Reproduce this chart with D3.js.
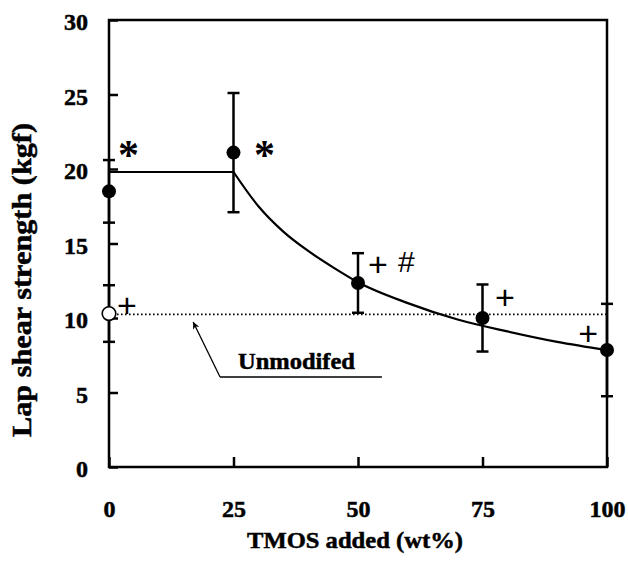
<!DOCTYPE html>
<html>
<head>
<meta charset="utf-8">
<script src="https://cdn.jsdelivr.net/npm/d3@7"></script>
<style>
  body { margin: 0; background: #fff; }
  text { font-family: "Liberation Serif", "Times New Roman", serif; font-weight: bold; }
  .mark { font-family: "Liberation Sans", Arial, sans-serif; font-weight: normal; }
</style>
</head>
<body>
<svg id="chart"></svg>
<script>
// measured points (TMOS wt%, strength kgf, +/- error)
const tmos = [0, 25, 50, 75, 100];
const strength = [18.5, 21.1, 12.35, 10.0, 7.85];
const errors = [2.1, 4.0, 2.0, 2.25, 3.1];

// unmodified reference
const unmodX = [0];
const unmodY = [10.3];
const unmodErr = [1.9];
const unmodLevel = 10.25;

// fitted line
const flatX = [0, 25];
const flatY = [19.8, 19.8];
const fitX = [25, 30, 35, 40, 45, 50, 60, 70, 80, 90, 100];
const fitY = [19.8, 17.5, 15.8, 14.5, 13.4, 12.4, 11.0, 9.9, 9.1, 8.4, 7.85];

const xTicks = [0, 25, 50, 75, 100];
const yTicks = [0, 5, 10, 15, 20, 25, 30];

// significance marks: [x, y, label] (centre of the glyph)
const starMarks = [[3.9, 21.55, '*'], [31.2, 21.55, '*']];
const plusMarks = [[3.6, 10.87, '+'], [54.0, 13.62, '+'], [59.7, 13.8, '#'], [79.5, 11.4, '+'], [96.2, 9.0, '+']];

const width = 628;
const height = 564;
const margin = { left: 109, right: 21, top: 20, bottom: 97 };

const svg = d3.select('#chart').attr('width', width).attr('height', height);

const x = d3.scaleLinear().domain([0, 100]).range([margin.left, width - margin.right]);
const y = d3.scaleLinear().domain([0, 30]).range([height - margin.bottom, margin.top]);

// frame
svg.append('rect')
  .attr('x', x(0)).attr('y', y(30))
  .attr('width', x(100) - x(0)).attr('height', y(0) - y(30))
  .attr('fill', 'none').attr('stroke', '#000').attr('stroke-width', 2.5);

const xAxis = d3.axisBottom(x).tickValues(xTicks).tickSize(-10).tickPadding(33);
const yAxis = d3.axisLeft(y).tickValues(yTicks).tickSize(-9).tickPadding(21);

const gx = svg.append('g')
  .attr('transform', 'translate(0,' + y(0) + ')')
  .call(xAxis);
const gy = svg.append('g')
  .attr('transform', 'translate(' + x(0) + ',0)')
  .call(yAxis);

[gx, gy].forEach((g) => {
  g.select('.domain').remove();
  g.selectAll('line').attr('stroke-width', 2.5);
  g.selectAll('text')
    .style('font-family', '"Liberation Serif", serif')
    .style('font-weight', 'bold')
    .style('font-size', '24px')
    .attr('fill', '#000')
    .attr('stroke', '#000').attr('stroke-width', 0.5);
});
gy.selectAll('text').attr('dy', '0.40em');

// axis titles
svg.append('text')
  .attr('x', 355).attr('y', 548)
  .attr('text-anchor', 'middle')
  .attr('textLength', 216).attr('lengthAdjust', 'spacingAndGlyphs')
  .attr('stroke', '#000').attr('stroke-width', 0.5)
  .style('font-size', '24px')
  .text('TMOS added (wt%)');

svg.append('text')
  .attr('transform', 'translate(31,280) rotate(-90)')
  .attr('text-anchor', 'middle')
  .attr('textLength', 314).attr('lengthAdjust', 'spacingAndGlyphs')
  .attr('stroke', '#000').attr('stroke-width', 0.5)
  .style('font-size', '28px')
  .text('Lap shear strength (kgf)');

// unmodified dotted level
svg.append('line')
  .attr('x1', x(0)).attr('x2', x(100))
  .attr('y1', y(unmodLevel)).attr('y2', y(unmodLevel))
  .attr('stroke', '#000').attr('stroke-width', 1.8)
  .attr('stroke-dasharray', '1.6,2.4');

// fit line
const line = d3.line().x((d) => x(d[0])).y((d) => y(d[1]));
svg.append('path')
  .datum(d3.zip(flatX, flatY))
  .attr('d', line)
  .attr('fill', 'none').attr('stroke', '#000').attr('stroke-width', 2.2);
svg.append('path')
  .datum(d3.zip(fitX, fitY))
  .attr('d', line.curve(d3.curveMonotoneX))
  .attr('fill', 'none').attr('stroke', '#000').attr('stroke-width', 2.2);

// error bars
const drawErr = (xs, ys, es) => {
  const rows = d3.zip(xs, ys, es);
  const g = svg.append('g').attr('stroke', '#000').attr('stroke-width', 2.5);
  g.selectAll('.bar').data(rows).enter().append('line')
    .attr('x1', (d) => x(d[0])).attr('x2', (d) => x(d[0]))
    .attr('y1', (d) => y(d[1] - d[2])).attr('y2', (d) => y(d[1] + d[2]));
  g.selectAll('.capTop').data(rows).enter().append('line')
    .attr('x1', (d) => x(d[0]) - 6).attr('x2', (d) => x(d[0]) + 6)
    .attr('y1', (d) => y(d[1] + d[2])).attr('y2', (d) => y(d[1] + d[2]));
  g.selectAll('.capBot').data(rows).enter().append('line')
    .attr('x1', (d) => x(d[0]) - 6).attr('x2', (d) => x(d[0]) + 6)
    .attr('y1', (d) => y(d[1] - d[2])).attr('y2', (d) => y(d[1] - d[2]));
};
drawErr(tmos, strength, errors);
drawErr(unmodX, unmodY, unmodErr);

// points
svg.selectAll('.pt').data(d3.zip(tmos, strength)).enter().append('circle')
  .attr('cx', (d) => x(d[0])).attr('cy', (d) => y(d[1]))
  .attr('r', 7).attr('fill', '#000');
svg.selectAll('.open').data(d3.zip(unmodX, unmodY)).enter().append('circle')
  .attr('cx', (d) => x(d[0])).attr('cy', (d) => y(d[1]))
  .attr('r', 6.8).attr('fill', '#fff').attr('stroke', '#000').attr('stroke-width', 1.6);

// marks
svg.selectAll('.star').data(starMarks).enter().append('text')
  .attr('x', (d) => x(d[0])).attr('y', (d) => y(d[1]))
  .attr('text-anchor', 'middle')
  .attr('dy', '0.55em')
  .style('font-size', '42px')
  .text((d) => d[2]);
svg.selectAll('.plus').data(plusMarks).enter().append('text')
  .attr('class', 'mark')
  .attr('x', (d) => x(d[0])).attr('y', (d) => y(d[1]))
  .attr('text-anchor', 'middle')
  .attr('dy', '0.36em')
  .style('font-size', (d) => d[2] === '#' ? '30px' : '34px')
  .text((d) => d[2]);

// "Unmodifed" callout
const arrowFrom = [22.3, 6.04];
const arrowTo = [16.9, 9.73];
const calloutEnd = 54.8;
svg.append('defs').append('marker')
  .attr('id', 'head').attr('viewBox', '0 0 10 10')
  .attr('refX', 10).attr('refY', 5)
  .attr('markerWidth', 12).attr('markerHeight', 7)
  .attr('markerUnits', 'userSpaceOnUse')
  .attr('orient', 'auto')
  .append('path').attr('d', 'M0,0 L10,5 L0,10 L3,5 Z').attr('fill', '#000');
svg.append('line')
  .attr('x1', x(arrowFrom[0])).attr('y1', y(arrowFrom[1]))
  .attr('x2', x(arrowTo[0])).attr('y2', y(arrowTo[1]))
  .attr('stroke', '#000').attr('stroke-width', 1.3)
  .attr('marker-end', 'url(#head)');
svg.append('line')
  .attr('x1', x(arrowFrom[0])).attr('y1', y(arrowFrom[1]))
  .attr('x2', x(calloutEnd)).attr('y2', y(arrowFrom[1]))
  .attr('stroke', '#000').attr('stroke-width', 1.3);
svg.append('text')
  .attr('x', x(25.9)).attr('y', y(6.58))
  .attr('textLength', 117).attr('lengthAdjust', 'spacingAndGlyphs')
  .attr('stroke', '#000').attr('stroke-width', 0.5)
  .style('font-size', '24px')
  .text('Unmodifed');
</script>
</body>
</html>
